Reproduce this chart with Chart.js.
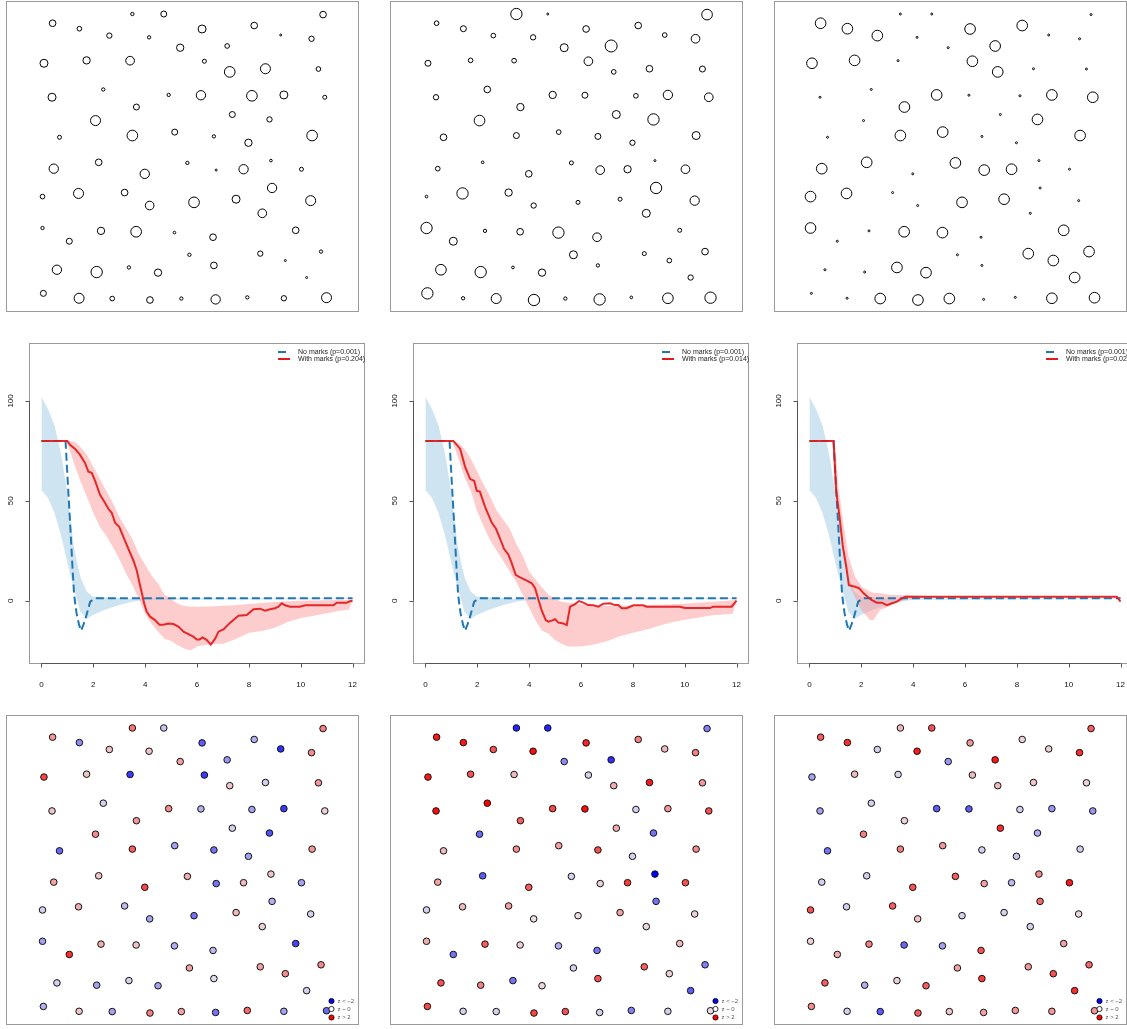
<!DOCTYPE html>
<html>
<head>
<meta charset="utf-8">
<script src="https://cdn.jsdelivr.net/npm/chart.js@4.4.1/dist/chart.umd.min.js"></script>
<style>
html, body { margin: 0; padding: 0; background: #fff; }
body { width: 1127px; height: 1029px; overflow: hidden; position: relative; }
.panel { position: absolute; }
</style>
</head>
<body>
<script>
'use strict';
// point locations in the unit window, the same pattern in every column
const ptX = [0.326, 0.435, 0.988, 0.049, 0.142, 0.568, 0.749, 0.246, 0.384, 0.841,
  0.948, 0.492, 0.655, 0.019, 0.167, 0.318, 0.576, 0.664, 0.788, 0.972,
  0.047, 0.225, 0.452, 0.564, 0.741, 0.852, 0.994, 0.340, 0.673, 0.802,
  0.198, 0.073, 0.326, 0.473, 0.609, 0.729, 0.950, 0.053, 0.209, 0.369,
  0.517, 0.617, 0.712, 0.807, 0.913, 0.014, 0.139, 0.299, 0.386, 0.540,
  0.686, 0.811, 0.945, 0.777, 0.014, 0.107, 0.217, 0.339, 0.472, 0.606,
  0.893, 0.524, 0.770, 0.981, 0.857, 0.064, 0.202, 0.314, 0.415, 0.609,
  0.931, 0.017, 0.141, 0.256, 0.387, 0.496, 0.615, 0.725, 0.852, 1.000];
const ptY = [0.993, 0.993, 0.991, 0.961, 0.942, 0.941, 0.953, 0.918, 0.912, 0.920,
  0.907, 0.876, 0.882, 0.822, 0.832, 0.831, 0.829, 0.792, 0.803, 0.802,
  0.704, 0.731, 0.712, 0.711, 0.709, 0.712, 0.704, 0.670, 0.644, 0.627,
  0.623, 0.565, 0.571, 0.583, 0.568, 0.546, 0.571, 0.456, 0.478, 0.438,
  0.476, 0.451, 0.454, 0.484, 0.454, 0.359, 0.370, 0.373, 0.328, 0.339,
  0.350, 0.389, 0.345, 0.301, 0.250, 0.204, 0.240, 0.237, 0.234, 0.218,
  0.242, 0.157, 0.161, 0.168, 0.137, 0.105, 0.097, 0.113, 0.095, 0.120,
  0.078, 0.023, 0.006, 0.005, 0.000, 0.005, 0.002, 0.009, 0.006, 0.008];

// marks of each column (shown as circle size)
const marksA = [5, 9, 10, 10, 7, 12, 10, 8, 5, 3, 8, 11, 7, 12, 11, 13, 6, 16, 15, 7,
  12, 5, 5, 14, 16, 12, 6, 9, 9, 8, 15, 6, 16, 9, 5, 11, 16, 14, 10, 14,
  5, 3, 14, 4, 6, 7, 15, 10, 13, 16, 12, 14, 15, 13, 5, 9, 11, 16, 4, 10,
  10, 5, 8, 5, 3, 14, 17, 5, 11, 10, 3, 9, 15, 7, 10, 5, 14, 5, 8, 15];
const marksB = [17, 3, 16, 7, 9, 10, 10, 7, 8, 7, 13, 12, 18, 9, 7, 7, 13, 7, 10, 9,
  8, 10, 11, 9, 7, 14, 13, 11, 12, 17, 16, 10, 9, 7, 9, 8, 12, 7, 4, 10,
  6, 13, 11, 3, 13, 4, 17, 11, 8, 6, 6, 17, 14, 12, 17, 12, 5, 10, 17, 13,
  6, 12, 6, 10, 7, 16, 17, 4, 11, 5, 8, 17, 5, 15, 17, 5, 17, 4, 16, 17];
const marksC = [3, 3, 3, 16, 16, 16, 16, 16, 3, 3, 3, 3, 16, 16, 16, 3, 16, 16, 3, 3,
  3, 3, 16, 3, 3, 16, 16, 16, 3, 16, 3, 3, 16, 16, 3, 3, 16, 16, 16, 3,
  16, 16, 16, 3, 3, 16, 16, 3, 3, 16, 16, 3, 3, 3, 16, 3, 3, 16, 16, 3,
  16, 3, 16, 16, 16, 3, 3, 16, 16, 3, 16, 3, 3, 16, 16, 16, 3, 3, 16, 16];

// local z-scores of each column (shown as colour)
const zA = [1.0, -0.3, 0.9, 0.7, -0.8, -1.2, -0.5, 0.3, 0.3, -1.6,
  0.8, 0.6, -0.7, 1.4, 0.3, -1.5, -1.5, 0.3, -0.2, 0.7,
  0.3, -0.2, 0.8, -0.5, -0.6, -1.5, 0.2, 0.7, -0.2, -1.3,
  0.8, -1.1, 1.2, -0.6, -1.0, -0.6, 0.7, 0.6, 0.3, 1.4,
  0.5, -1.0, 0.4, 0.3, -0.6, -0.2, 0.5, -0.4, -0.6, -1.0,
  0.4, -0.5, -0.2, 0.2, -0.6, 1.6, 0.5, 0.3, -0.5, -0.4,
  -1.4, 0.6, 0.6, 0.8, 0.8, -0.2, -0.6, -0.2, -0.6, -0.1,
  -0.2, -0.5, 0.3, -0.6, 0.9, 0.6, -1.0, 1.1, -0.6, -1.1];
const zB = [-1.7, -1.7, -0.9, 1.8, 1.8, 1.7, 0.9, 1.3, 1.9, 0.4,
  0.9, -0.8, -1.6, 1.8, 1.3, 0.4, -0.2, 0.5, 1.8, 0.7,
  1.9, 2.0, 1.4, 1.9, -0.2, 0.7, 1.3, 1.2, 0.5, -1.0,
  -1.1, 0.4, 0.8, 0.6, 1.3, -0.2, 0.8, 0.6, -1.2, 1.2,
  -0.2, 0.2, 1.5, -2.2, 1.3, -0.2, 0.4, 0.6, 0.1, 0.1,
  0.6, -1.0, 0.2, 0.15, 0.5, -1.0, 1.2, 0.2, -0.5, -1.0,
  0.4, -0.2, 1.2, -0.9, 0.2, 1.3, 0.9, -1.0, 0.15, 1.3,
  -1.2, 1.4, -0.2, -0.2, 1.4, 1.3, -0.2, -0.9, -0.2, 0.1];
const zC = [0.4, 1.3, 1.2, 1.2, 1.6, 0.7, 0.2, -0.2, 1.8, 0.2,
  1.6, -0.7, 1.8, -0.6, 0.4, -0.15, 0.4, 0.4, 0.3, 0.2,
  -0.6, -0.2, -1.2, -1.2, -0.2, -0.7, -0.7, 0.2, 1.6, -0.5,
  0.9, -1.0, 0.9, 0.7, -0.2, -0.3, -0.2, -0.2, -0.2, 1.3,
  1.2, 0.6, -0.4, 0.8, 1.8, 1.3, -0.2, 1.2, 0.3, -0.2,
  -0.2, 1.1, 0.15, -0.2, 0.2, 0.5, 0.9, -1.1, -0.6, 1.3,
  0.6, 0.6, 0.7, 1.1, 1.3, 1.2, -0.5, 0.2, 1.2, 1.5,
  1.6, 0.8, -0.2, -1.2, 1.2, 0.3, 0.6, 0.7, 0.7, 0.7];

const xTicks = [0, 2, 4, 6, 8, 10, 12];
const yTicks = [0, 50, 100];

// no marks: curve [r, value] and envelope [r, lo, hi], same in every column
const noMarksLine = [[0, 80], [0.93, 80], [1.0, 63], [1.1, 40], [1.2, 16], [1.26, 3], [1.35, -6],
  [1.45, -12], [1.53, -15], [1.62, -12], [1.72, -8], [1.88, -0.5], [2.07, 1.2], [12, 1.2]];
const noMarksBand = [[0, 55.4, 102], [0.25, 51.5, 96], [0.5, 44, 88], [0.75, 33, 74], [1.0, 19, 54],
  [1.25, 6, 27], [1.5, -5.5, 12], [1.75, -9, 4.5], [2.0, -7, 2], [2.5, -4.3, 1.7], [3.0, -2.2, 1.2],
  [3.5, -0.5, 1], [4.0, 0.5, 1.2], [12, 0.8, 1.2]];

// with marks, column 1
const withLine1 = [[0, 80], [1.0, 80], [1.1, 78], [1.3, 76], [1.49, 73], [1.68, 69], [1.81, 64.6], [1.94, 64],
  [2.07, 60], [2.26, 53], [2.45, 49], [2.58, 46], [2.71, 44], [2.84, 39], [3.0, 37], [3.16, 32], [3.35, 26],
  [3.55, 20], [3.68, 15], [3.78, 9], [3.87, 4], [3.96, -1.3], [4.06, -5.5], [4.19, -8], [4.38, -9.7],
  [4.55, -12], [4.7, -12], [4.9, -11.4], [5.09, -11.7], [5.28, -13], [5.48, -15.5], [5.67, -16.7],
  [5.86, -18], [5.99, -19.4], [6.1, -19.4], [6.22, -18.4], [6.38, -19.7], [6.53, -22], [6.7, -19],
  [6.83, -15.5], [7.02, -14.4], [7.28, -11], [7.6, -7.5], [7.92, -7.2], [8.18, -4.3], [8.43, -4],
  [8.62, -5], [8.82, -4.3], [9.01, -3.8], [9.14, -3], [9.27, -1.3], [9.4, -2.3], [9.59, -3], [9.97, -3],
  [10.17, -2.3], [11.26, -2.3], [11.39, -1], [11.77, -1], [11.9, -0.3], [12, 0]];
const withBand1 = [[0, 80, 80], [0.95, 80, 80], [1.1, 75, 80], [1.3, 67, 79.5], [1.5, 60, 77], [1.75, 52, 73],
  [2.0, 44, 67], [2.25, 37, 61], [2.5, 32.5, 55], [2.75, 27, 49], [3.0, 21, 42], [3.25, 14, 36.5],
  [3.5, 8, 31], [3.75, 1, 23.5], [4.0, -6.5, 18], [4.25, -11.5, 12.5], [4.5, -15.5, 8.5], [4.75, -19, 3],
  [5.0, -20, 0.8], [5.25, -22.3, -1.5], [5.5, -24, -2.7], [5.75, -25, -3], [6.0, -23, -3], [6.5, -21.7, -2.9],
  [7.0, -21.5, -2.5], [7.5, -19.2, -2.3], [8.0, -16, -1.7], [8.5, -15.2, -1.2], [9.0, -13.5, -0.7],
  [9.5, -10.7, -0.3], [10.0, -8.7, 0], [10.5, -7.5, 0.1], [11.0, -6.3, 0.2], [11.5, -5.1, 0.3],
  [11.85, -4.5, 0.3], [12, 0, 0.3]];

// with marks, column 2
const withLine2 = [[0, 80], [1.08, 80], [1.34, 76], [1.53, 67], [1.72, 61], [1.88, 60], [1.98, 55], [2.1, 54.6],
  [2.3, 47], [2.56, 39], [2.72, 36], [2.88, 31], [3.03, 26], [3.2, 23], [3.33, 18.7], [3.48, 12.9],
  [3.65, 11.7], [3.91, 10], [4.1, 8.7], [4.23, 6.2], [4.36, 0.3], [4.48, -4.7], [4.64, -9.7], [4.74, -10.5],
  [4.87, -10], [5.0, -9.3], [5.13, -11], [5.32, -11.4], [5.45, -12.2], [5.58, -3], [5.77, -1.7], [5.92, -0.2],
  [6.09, -1], [6.28, -2.2], [6.48, -2.3], [6.67, -3], [6.86, -1.5], [7.12, -1.3], [7.31, -2.2], [7.44, -2.2],
  [7.57, -3.8], [7.76, -3.8], [8.02, -2.3], [8.4, -2.3], [8.53, -3], [9.82, -3], [10.01, -3.7],
  [10.97, -3.7], [11.1, -3], [11.81, -3], [12, 0]];
const withBand2 = [[0, 80, 80], [1.0, 80, 80], [1.1, 77.5, 80], [1.3, 70, 78.5], [1.5, 62, 76], [1.75, 55, 71],
  [2.0, 44.5, 64.5], [2.25, 37, 58], [2.5, 30, 52], [2.75, 25, 45], [3.0, 20, 40.5], [3.25, 14.5, 36],
  [3.5, 9.5, 28.5], [3.75, 3, 22.5], [4.0, -3.5, 14.5], [4.25, -10, 10.5], [4.5, -15, 6.5], [4.75, -16.5, 3],
  [5.0, -19.7, 0.8], [5.25, -21.5, -0.5], [5.5, -23, -1], [6.0, -23, -1.7], [6.5, -22, -2.3], [7.0, -20.3, -2.7],
  [7.5, -17.8, -2.6], [8.0, -16, -2.4], [8.5, -14.5, -2.2], [9.0, -12.5, -2.0], [9.5, -10.8, -1.8],
  [10.0, -9.6, -1.5], [10.5, -8.5, -1.0], [11.0, -7.4, -0.6], [11.5, -6.9, -0.2], [11.85, -6.6, 0.2],
  [12, 0, 0.3]];

// with marks, column 3
const withLine3 = [[0, 80], [0.93, 80], [1.03, 55], [1.16, 42], [1.29, 27], [1.42, 17], [1.52, 7.8], [1.76, 7],
  [1.92, 6.2], [2.09, 3.7], [2.24, 2], [2.41, 0.3], [2.6, -1], [2.79, -1], [2.99, -2.2], [3.18, -1.3],
  [3.37, -0.5], [3.57, 1.2], [3.7, 2], [11.85, 2], [12, -0.5]];
const withBand3 = [[0, 80, 80], [0.93, 80, 80], [1.0, 58, 77], [1.12, 42, 57], [1.31, 22, 38.7], [1.51, 8.7, 22],
  [1.76, 1.5, 12], [2.02, -5, 7], [2.34, -9.7, 4.5], [2.47, -9.7, 4], [2.73, -4.7, 3.7], [3.05, -3, 3],
  [3.37, -1, 2.8], [3.76, 0.7, 2.8], [4.27, 1.2, 2.5], [4.79, 1.7, 2.1], [12, 1.8, 2.1]];

const pNoMarks = '0.001';
const pWithMarks = ['0.204', '0.014', '0.024'];
const zLegendText = ['z < \u22122', 'z ~ 0', 'z > 2'];

const colLeft = [0, 384, 768];
const chartFont = '"Liberation Sans", Arial, Helvetica, sans-serif';

function makeCanvas(left, top, w, h) {
  let div = document.createElement('div');
  div.className = 'panel';
  div.style.left = left + 'px';
  div.style.top = top + 'px';
  div.style.width = w + 'px';
  div.style.height = h + 'px';
  let c = document.createElement('canvas');
  c.width = w;
  c.height = h;
  c.style.width = w + 'px';
  c.style.height = h + 'px';
  div.appendChild(c);
  document.body.appendChild(div);
  return c;
}

function zColor(z) {
  let t = Math.max(-1, Math.min(1, z / 2));
  let mid = [236, 232, 236];
  let end = t < 0 ? [0, 0, 255] : [255, 0, 0];
  let a = Math.abs(t);
  let c = mid.map((m, i) => Math.round(m + (end[i] - m) * a));
  return `rgb(${c[0]},${c[1]},${c[2]})`;
}

let framePlugin = {
  id: 'frame',
  afterDraw(chart) {
    let ctx = chart.ctx;
    let a = chart.chartArea;
    ctx.save();
    ctx.strokeStyle = '#9a9a9a';
    ctx.lineWidth = 1;
    ctx.strokeRect(a.left + 0.5, a.top + 0.5, a.right - a.left - 1, a.bottom - a.top - 1);
    ctx.restore();
  }
};

let axesPlugin = {
  id: 'rAxes',
  afterDraw(chart, args, opts) {
    let ctx = chart.ctx;
    let a = chart.chartArea;
    let xs = chart.scales.x;
    let ys = chart.scales.y;
    ctx.save();
    ctx.strokeStyle = '#555';
    ctx.fillStyle = '#111';
    ctx.lineWidth = 1;
    // bottom axis
    let yb = a.bottom - 0.5;
    ctx.beginPath();
    ctx.moveTo(xs.getPixelForValue(xTicks[0]), yb);
    ctx.lineTo(xs.getPixelForValue(xTicks[xTicks.length - 1]), yb);
    xTicks.forEach(t => {
      let px = Math.round(xs.getPixelForValue(t)) + 0.5;
      ctx.moveTo(px, yb);
      ctx.lineTo(px, yb + 4);
    });
    // left axis
    let xl = a.left + 0.5;
    ctx.moveTo(xl, ys.getPixelForValue(yTicks[0]));
    ctx.lineTo(xl, ys.getPixelForValue(yTicks[yTicks.length - 1]));
    yTicks.forEach(t => {
      let py = Math.round(ys.getPixelForValue(t)) + 0.5;
      ctx.moveTo(xl, py);
      ctx.lineTo(xl - 4, py);
    });
    ctx.stroke();

    ctx.font = '8px ' + chartFont;
    ctx.textAlign = 'center';
    ctx.textBaseline = 'middle';
    xTicks.forEach(t => ctx.fillText(String(t), xs.getPixelForValue(t), a.bottom + 21));
    yTicks.forEach(t => {
      ctx.save();
      ctx.translate(a.left - 18, ys.getPixelForValue(t));
      ctx.rotate(-Math.PI / 2);
      ctx.fillText(String(t), 0, 0);
      ctx.restore();
    });

    // legend
    let ly1 = a.top + 9;
    let ly2 = a.top + 16;
    ctx.lineWidth = 2;
    ctx.strokeStyle = '#1F78B4';
    ctx.setLineDash([8, 4]);
    ctx.beginPath();
    ctx.moveTo(a.right - 87, ly1);
    ctx.lineTo(a.right - 75, ly1);
    ctx.stroke();
    ctx.setLineDash([]);
    ctx.strokeStyle = '#E31A1C';
    ctx.beginPath();
    ctx.moveTo(a.right - 87, ly2);
    ctx.lineTo(a.right - 75, ly2);
    ctx.stroke();
    ctx.font = '7px ' + chartFont;
    ctx.fillStyle = '#222';
    ctx.textAlign = 'left';
    ctx.fillText(`No marks (p=${pNoMarks})`, a.right - 67, ly1);
    ctx.fillText(`With marks (p=${opts.pWith})`, a.right - 67, ly2);
    ctx.restore();
  }
};

let zLegendPlugin = {
  id: 'zLegend',
  afterDraw(chart) {
    let ctx = chart.ctx;
    let a = chart.chartArea;
    let fills = ['#0000ff', '#ffffff', '#ff0000'];
    let dy = [-24, -16, -7.5];
    ctx.save();
    ctx.font = '6px ' + chartFont;
    ctx.textAlign = 'left';
    ctx.textBaseline = 'middle';
    for (let i = 0; i < 3; i++) {
      let cx = a.right - 27.5;
      let cy = a.bottom + dy[i];
      ctx.beginPath();
      ctx.arc(cx, cy, 2.6, 0, Math.PI * 2);
      ctx.fillStyle = fills[i];
      ctx.fill();
      ctx.lineWidth = 0.8;
      ctx.strokeStyle = '#000';
      ctx.stroke();
      ctx.fillStyle = '#555';
      ctx.fillText(zLegendText[i], a.right - 21.5, cy);
    }
    ctx.restore();
  }
};

function points() {
  return ptX.map((x, i) => ({ x: x, y: ptY[i] }));
}

let windowScales = {
  x: { type: 'linear', min: -0.1128, max: 1.1128, display: false },
  y: { type: 'linear', min: -0.0417, max: 1.0382, display: false }
};

function baseOptions(padding) {
  return {
    responsive: false,
    animation: false,
    devicePixelRatio: 1,
    events: [],
    layout: { padding: padding, autoPadding: false },
    plugins: { legend: { display: false }, tooltip: { enabled: false } }
  };
}

// top row: marks as circle sizes
let allMarks = [marksA, marksB, marksC];
for (let k = 0; k < 3; k++) {
  let marks = allMarks[k];
  let opts = baseOptions({ left: 6, top: 1, right: 25, bottom: 8 });
  opts.scales = windowScales;
  new Chart(makeCanvas(colLeft[k], 0, 384, 320), {
    type: 'scatter',
    data: {
      datasets: [{
        data: points(),
        pointRadius: ctx => marks[ctx.dataIndex] / 3,
        pointBackgroundColor: 'rgba(0,0,0,0)',
        pointBorderColor: '#000',
        pointBorderWidth: 1
      }]
    },
    options: opts,
    plugins: [framePlugin]
  });
}

// middle row: summary functions with envelopes
let withLines = [withLine1, withLine2, withLine3];
let withBands = [withBand1, withBand2, withBand3];
for (let k = 0; k < 3; k++) {
  let opts = baseOptions({ left: 29, top: 13, right: 19, bottom: 36 });
  opts.scales = {
    x: { type: 'linear', min: -0.48, max: 12.48, display: false },
    y: { type: 'linear', min: -31.7, max: 129, display: false }
  };
  opts.plugins.rAxes = { pWith: pWithMarks[k] };
  let line = { tension: 0, pointRadius: 0 };
  new Chart(makeCanvas(colLeft[k], 330, 384, 370), {
    type: 'line',
    data: {
      datasets: [
        Object.assign({}, line, {
          label: 'With marks', order: 0, fill: false,
          data: withLines[k].map(p => ({ x: p[0], y: p[1] })),
          borderColor: 'rgba(227,26,28,0.92)', borderWidth: 2
        }),
        Object.assign({}, line, {
          label: 'No marks', order: 1, fill: false,
          data: noMarksLine.map(p => ({ x: p[0], y: p[1] })),
          borderColor: '#1F78B4', borderWidth: 2, borderDash: [8, 4]
        }),
        Object.assign({}, line, {
          label: 'With marks hi', order: 2, fill: '+1',
          data: withBands[k].map(p => ({ x: p[0], y: p[2] })),
          borderColor: 'rgba(0,0,0,0)', backgroundColor: 'rgba(251,154,153,0.5)'
        }),
        Object.assign({}, line, {
          label: 'With marks lo', order: 2, fill: false,
          data: withBands[k].map(p => ({ x: p[0], y: p[1] })),
          borderColor: 'rgba(0,0,0,0)'
        }),
        Object.assign({}, line, {
          label: 'No marks hi', order: 3, fill: '+1',
          data: noMarksBand.map(p => ({ x: p[0], y: p[2] })),
          borderColor: 'rgba(0,0,0,0)', backgroundColor: 'rgba(166,206,227,0.55)'
        }),
        Object.assign({}, line, {
          label: 'No marks lo', order: 3, fill: false,
          data: noMarksBand.map(p => ({ x: p[0], y: p[1] })),
          borderColor: 'rgba(0,0,0,0)'
        })
      ]
    },
    options: opts,
    plugins: [framePlugin, axesPlugin]
  });
}

// bottom row: local z-scores as colours
let allZ = [zA, zB, zC];
for (let k = 0; k < 3; k++) {
  let opts = baseOptions({ left: 6, top: 15, right: 25, bottom: 4 });
  opts.scales = windowScales;
  new Chart(makeCanvas(colLeft[k], 700, 384, 329), {
    type: 'scatter',
    data: {
      datasets: [{
        data: points(),
        pointRadius: 3.3,
        pointBackgroundColor: allZ[k].map(zColor),
        pointBorderColor: '#111',
        pointBorderWidth: 1
      }]
    },
    options: opts,
    plugins: [framePlugin, zLegendPlugin]
  });
}
</script>
</body>
</html>
